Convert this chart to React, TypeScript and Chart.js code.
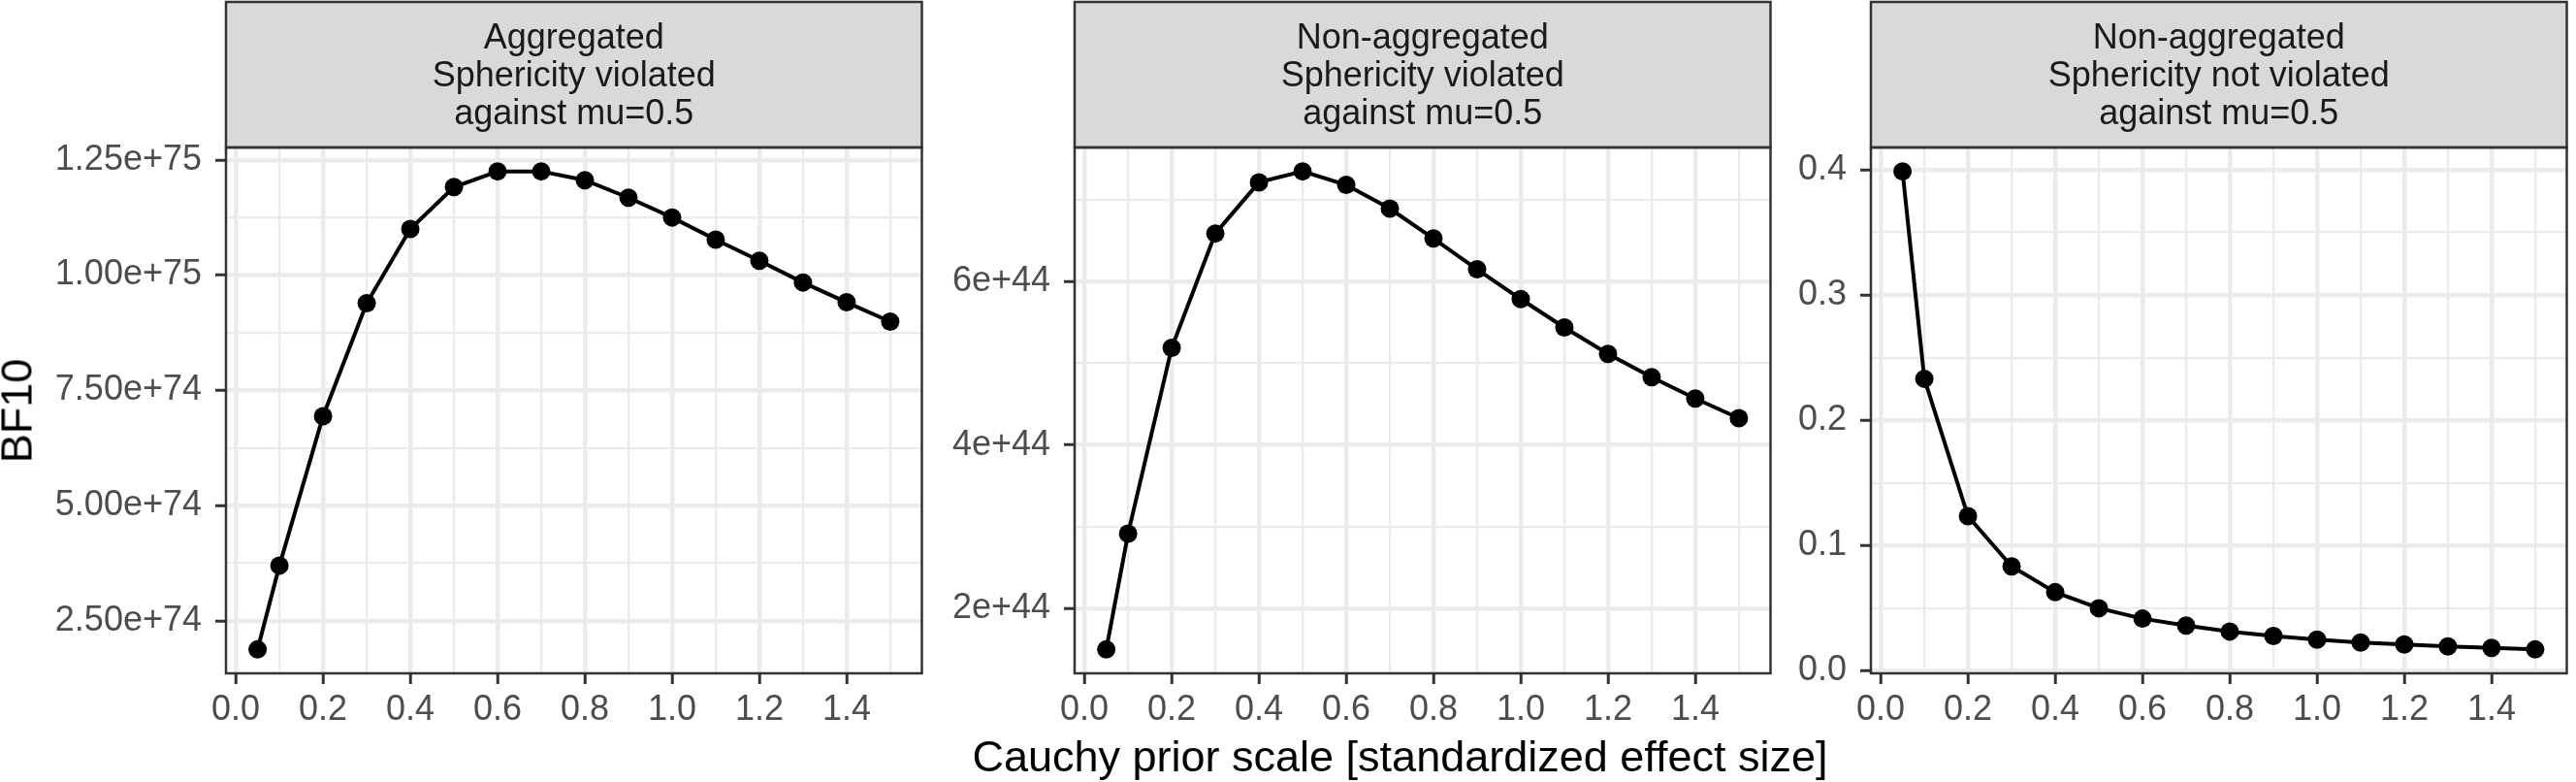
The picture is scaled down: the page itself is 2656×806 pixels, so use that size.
import React, { useEffect, useRef } from 'react';
import { Chart, registerables } from 'chart.js';

Chart.register(...registerables);

// ---------- data ----------
const X_VALUES = [0.05, 0.1, 0.2, 0.3, 0.4, 0.5, 0.6, 0.7, 0.8, 0.9, 1.0, 1.1, 1.2, 1.3, 1.4, 1.5];

const BF_AGG_VIOLATED = [
  1.88e74, 3.70e74, 6.94e74, 9.39e74, 1.100e75, 1.191e75, 1.225e75, 1.225e75,
  1.206e75, 1.168e75, 1.125e75, 1.077e75, 1.031e75, 0.984e75, 0.941e75, 0.899e75,
];
const BF_NONAGG_VIOLATED = [
  1.495e44, 2.913e44, 5.19e44, 6.591e44, 7.218e44, 7.352e44, 7.187e44, 6.895e44,
  6.530e44, 6.152e44, 5.787e44, 5.44e44, 5.117e44, 4.831e44, 4.569e44, 4.328e44,
];
const BF_NONAGG_NOT_VIOLATED = [
  0.3988, 0.2332, 0.1235, 0.0834, 0.0628, 0.0500, 0.0417, 0.0361,
  0.0314, 0.0278, 0.0250, 0.0226, 0.0211, 0.0195, 0.0183, 0.0171,
];

const X_MAJOR = [0, 0.2, 0.4, 0.6, 0.8, 1.0, 1.2, 1.4];
const X_LABELS = ['0.0', '0.2', '0.4', '0.6', '0.8', '1.0', '1.2', '1.4'];
const X_MINOR = [0.1, 0.3, 0.5, 0.7, 0.9, 1.1, 1.3, 1.5];

const Y1_MAJOR = [2.5e74, 5e74, 7.5e74, 1e75, 1.25e75];
const Y1_LABELS = ['2.50e+74', '5.00e+74', '7.50e+74', '1.00e+75', '1.25e+75'];
const Y1_MINOR = [3.75e74, 6.25e74, 8.75e74, 1.125e75];

const Y2_MAJOR = [2e44, 4e44, 6e44];
const Y2_LABELS = ['2e+44', '4e+44', '6e+44'];
const Y2_MINOR = [3e44, 5e44, 7e44];

const Y3_MAJOR = [0, 0.1, 0.2, 0.3, 0.4];
const Y3_LABELS = ['0.0', '0.1', '0.2', '0.3', '0.4'];
const Y3_MINOR = [0.05, 0.15, 0.25, 0.35];

const STRIP1 = ['Aggregated', 'Sphericity violated', 'against mu=0.5'];
const STRIP2 = ['Non-aggregated', 'Sphericity violated', 'against mu=0.5'];
const STRIP3 = ['Non-aggregated', 'Sphericity not violated', 'against mu=0.5'];

const X_TITLE = 'Cauchy prior scale [standardized effect size]';
const Y_TITLE = 'BF10';

// ---------- styling ----------
const FONT = "'Liberation Sans', Arial, Helvetica, sans-serif";
const H = 806;
const PLOT_TOP = 152;
const PLOT_BOTTOM = 694;

function expand(arr: number[], mult = 0.05): [number, number] {
  const mn = Math.min(...arr);
  const mx = Math.max(...arr);
  const r = mx - mn;
  return [mn - r * mult, mx + r * mult];
}

interface PanelProps {
  values: number[];
  yMajor: number[];
  yLabels: string[];
  yMinor: number[];
  strip: string[];
  left: number;
  width: number;
  yAxisWidth: number;
}

function Panel({ values, yMajor, yLabels, yMinor, strip, left, width, yAxisWidth }: PanelProps) {
  const ref = useRef<HTMLCanvasElement | null>(null);

  useEffect(() => {
    const canvas = ref.current;
    if (!canvas) return;
    const [xmin, xmax] = expand(X_VALUES);
    const [ymin, ymax] = expand(values);
    const xTicks = [...X_MAJOR, ...X_MINOR].sort((a, b) => a - b);
    const yTicks = [...yMajor, ...yMinor].sort((a, b) => a - b);

    const stripPlugin = {
      id: 'stripAndBorder',
      afterDraw(chart: any) {
        const { ctx, chartArea } = chart;
        const { left: l, right: r, top: t, bottom: b } = chartArea;
        ctx.save();
        // strip
        ctx.fillStyle = '#D9D9D9';
        ctx.fillRect(l, 2, r - l, t - 2);
        ctx.strokeStyle = '#333333';
        ctx.lineWidth = 2.5;
        ctx.strokeRect(l, 2, r - l, t - 2);
        ctx.fillStyle = '#1A1A1A';
        ctx.font = `36px ${FONT}`;
        ctx.textAlign = 'center';
        ctx.textBaseline = 'alphabetic';
        const cx = (l + r) / 2;
        strip.forEach((line, i) => ctx.fillText(line, cx, 50 + i * 39));
        // panel border
        ctx.strokeRect(l, t, r - l, b - t);
        ctx.restore();
      },
    };

    const chart = new Chart(canvas, {
      type: 'line',
      data: {
        datasets: [
          {
            data: X_VALUES.map((x, i) => ({ x, y: values[i] })),
            borderColor: '#000000',
            backgroundColor: '#000000',
            borderWidth: 4,
            pointRadius: 9.5,
            pointBorderWidth: 0,
            pointBackgroundColor: '#000000',
            tension: 0,
            fill: false,
          },
        ],
      },
      options: {
        animation: false,
        responsive: false,
        devicePixelRatio: 1,
        events: [],
        layout: { padding: { top: PLOT_TOP, right: 2, bottom: 0, left: 0 } },
        plugins: { legend: { display: false }, tooltip: { enabled: false }, title: { display: false } },
        scales: {
          x: {
            type: 'linear',
            min: xmin,
            max: xmax,
            bounds: 'data',
            afterBuildTicks: (scale: any) => {
              scale.ticks = xTicks.map((v) => ({ value: v }));
            },
            afterFit: (scale: any) => {
              scale.height = H - PLOT_BOTTOM;
            },
            border: { display: false },
            grid: {
              color: '#EBEBEB',
              lineWidth: (c: any) => (X_MAJOR.includes(c.tick?.value) ? 4.5 : 2.3),
              tickColor: (c: any) => (X_MAJOR.includes(c.tick?.value) ? '#333333' : 'rgba(0,0,0,0)'),
              tickWidth: 3,
              tickLength: 11,
              drawTicks: true,
            },
            ticks: {
              autoSkip: false,
              maxRotation: 0,
              minRotation: 0,
              padding: 5,
              color: '#4D4D4D',
              font: { family: FONT, size: 36 },
              callback: (v: any) => {
                const i = X_MAJOR.indexOf(v);
                return i >= 0 ? X_LABELS[i] : '';
              },
            },
          },
          y: {
            type: 'linear',
            min: ymin,
            max: ymax,
            bounds: 'data',
            afterBuildTicks: (scale: any) => {
              scale.ticks = yTicks.map((v) => ({ value: v }));
            },
            afterFit: (scale: any) => {
              scale.width = yAxisWidth;
            },
            border: { display: false },
            grid: {
              color: '#EBEBEB',
              lineWidth: (c: any) => (yMajor.includes(c.tick?.value) ? 4.5 : 2.3),
              tickColor: (c: any) => (yMajor.includes(c.tick?.value) ? '#333333' : 'rgba(0,0,0,0)'),
              tickWidth: 3,
              tickLength: 11,
              drawTicks: true,
            },
            ticks: {
              autoSkip: false,
              padding: 14,
              color: '#4D4D4D',
              font: { family: FONT, size: 36 },
              callback: (v: any) => {
                const i = yMajor.indexOf(v);
                return i >= 0 ? yLabels[i] : '';
              },
            },
          },
        },
      },
      plugins: [stripPlugin],
    } as any);

    return () => chart.destroy();
  }, [values, yMajor, yLabels, yMinor, strip, yAxisWidth]);

  return (
    <canvas
      ref={ref}
      width={width}
      height={H}
      style={{ position: 'absolute', left, top: 0, width, height: H, display: 'block' }}
    />
  );
}

export default function App() {
  return (
    <div
      style={{
        position: 'absolute',
        left: 0,
        top: 0,
        width: 2656,
        height: H,
        background: '#FFFFFF',
        overflow: 'hidden',
        fontFamily: FONT,
      }}
    >
      <Panel
        values={BF_AGG_VIOLATED}
        yMajor={Y1_MAJOR}
        yLabels={Y1_LABELS}
        yMinor={Y1_MINOR}
        strip={STRIP1}
        left={0}
        width={960}
        yAxisWidth={233}
      />
      <Panel
        values={BF_NONAGG_VIOLATED}
        yMajor={Y2_MAJOR}
        yLabels={Y2_LABELS}
        yMinor={Y2_MINOR}
        strip={STRIP2}
        left={960}
        width={875}
        yAxisWidth={148}
      />
      <Panel
        values={BF_NONAGG_NOT_VIOLATED}
        yMajor={Y3_MAJOR}
        yLabels={Y3_LABELS}
        yMinor={Y3_MINOR}
        strip={STRIP3}
        left={1835}
        width={821}
        yAxisWidth={94}
      />
      <div
        style={{
          position: 'absolute',
          left: 1443.5 - 700,
          top: 757,
          width: 1400,
          height: 45,
          lineHeight: '45px',
          fontSize: 45,
          textAlign: 'center',
          color: '#000000',
          whiteSpace: 'nowrap',
        }}
      >
        {X_TITLE}
      </div>
      <div
        style={{
          position: 'absolute',
          left: 17 - 100,
          top: 423 - 22.5,
          width: 200,
          height: 45,
          lineHeight: '45px',
          fontSize: 45,
          textAlign: 'center',
          color: '#000000',
          transform: 'rotate(-90deg)',
          whiteSpace: 'nowrap',
        }}
      >
        {Y_TITLE}
      </div>
    </div>
  );
}
